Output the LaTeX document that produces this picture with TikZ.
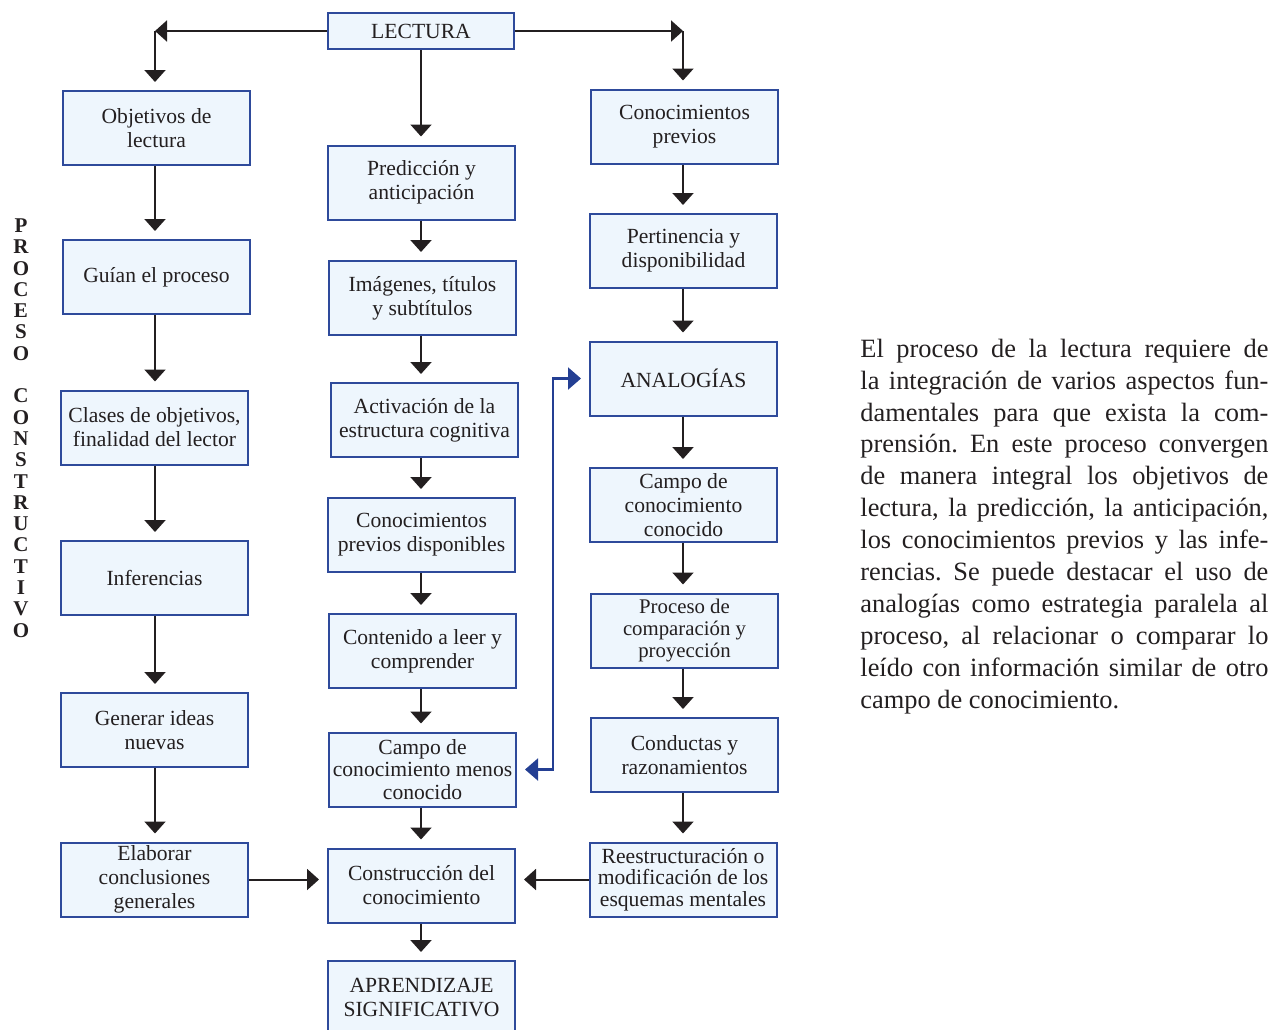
\documentclass[tikz,border=0pt]{standalone}
\usepackage{fontspec}
\setmainfont{Liberation Serif}
\usetikzlibrary{arrows.meta}
\definecolor{boxfill}{HTML}{EEF6FD}
\definecolor{boxline}{HTML}{2E4A9B}
\definecolor{linkblue}{HTML}{243F93}
\definecolor{ink}{HTML}{231F20}
\frenchspacing
\begin{document}
\begin{tikzpicture}[x=0.5pt,y=-0.5pt,
  box/.style={draw=boxline, fill=boxfill, line width=1pt, minimum width=93.5pt,
    minimum height=37pt, inner xsep=1pt, inner ysep=1pt, align=center,
    font=\fontsize{10.8}{12}\selectfont, text=ink},
  link/.style={draw=ink, line width=1pt, -{Triangle[length=6pt,width=10.5pt]}},
  arr/.style={link, shorten >=4pt},
  blink/.style={draw=linkblue, line width=1.1pt,
    {Triangle[length=6.5pt,width=11pt]}-{Triangle[length=6.5pt,width=11pt]},
    shorten >=4pt, shorten <=4pt},
]
\useasboundingbox (0,0) rectangle (1273,1029);

% vertical label
\node[font=\bfseries\fontsize{10.5}{10.65}\selectfont, align=center, inner sep=0pt, text=ink] (vt) at (21,428)
  {P\\R\\O\\C\\E\\S\\O\\[10.65pt]C\\O\\N\\S\\T\\R\\U\\C\\T\\I\\V\\O};

% top
\node[box, minimum height=18pt, minimum width=93pt] (lect) at (421,31) {LECTURA};

% left column
\node[box] (obj) at (156.5,128) {Objetivos de\\lectura};
\node[box] (gui) at (156.5,277) {Guían el proceso};
\node[box] (cla) at (154.5,427.5) {Clases de objetivos,\\finalidad del lector};
\node[box] (inf) at (154.5,578) {Inferencias};
\node[box] (gen) at (154.5,730) {Generar ideas\\nuevas};
\node[box] (ela) at (154.5,879.5) {Elaborar\\conclusiones\\generales};

% middle column
\node[box] (pred) at (421.5,182.5) {Predicción y\\anticipación};
\node[box] (ima) at (422.5,298) {Imágenes, títulos\\y subtítulos};
\node[box] (act) at (424.5,420) {Activación de la\\estructura cognitiva};
\node[box] (cpd) at (421.5,535) {Conocimientos\\previos disponibles};
\node[box] (cont) at (422.5,651) {Contenido a leer y\\comprender};
\node[box, font=\fontsize{10.8}{11.25}\selectfont] (menos) at (422.5,769.5) {Campo de\\conocimiento menos\\conocido};
\node[box] (cons) at (421.5,885.5) {Construcción del\\conocimiento};
\node[box] (apr) at (421.5,998) {APRENDIZAJE\\SIGNIFICATIVO};

% right column
\node[box] (cprev) at (684.5,126.5) {Conocimientos\\previos};
\node[box] (pert) at (683.5,251) {Pertinencia y\\disponibilidad};
\node[box] (anal) at (683.5,378.5) {ANALOGÍAS};
\node[box] (ccon) at (683.5,505) {Campo de\\conocimiento\\conocido};
\node[box, font=\fontsize{10.4}{10.8}\selectfont] (proc) at (684.5,630.5) {Proceso de\\comparación y\\proyección};
\node[box] (condu) at (684.5,755) {Conductas y\\razonamientos};
\node[box, font=\fontsize{10.8}{10.8}\selectfont] (rees) at (683,879.5) {Reestructuración o\\modificación de los\\esquemas mentales};

% paragraph
\node[anchor=north west, inner sep=0pt, text width=204pt, align=justify, text=ink,
  font=\fontsize{13.2}{15.95}\selectfont] (para) at (860,338.5)
  {El proceso de la lectura requiere de\linebreak
   la integración de varios aspectos fun-\linebreak
   damentales para que exista la com-\linebreak
   prensión. En este proceso convergen\linebreak
   de manera integral los objetivos de\linebreak
   lectura, la predicción, la anticipación,\linebreak
   los conocimientos previos y las infe-\linebreak
   rencias. Se puede destacar el uso de\linebreak
   analogías como estrategia paralela al\linebreak
   proceso, al relacionar o comparar lo\linebreak
   leído con información similar de otro\linebreak
   campo de conocimiento.};

% helper coordinates
\coordinate (cL) at (155,31);
\coordinate (cR) at (683,31);
\coordinate (xL) at (155,0);
\coordinate (xM) at (421,0);
\coordinate (xR) at (683,0);
\coordinate (xB) at (553,0);

% connectors from LECTURA
\draw[link] (lect) -- (cL);
\draw[link] (lect) -- (cR);
\draw[arr] (cL) -- (cL |- obj.north);
\draw[arr] (cR) -- (cR |- cprev.north);

% left column
\foreach \a/\b in {obj/gui, gui/cla, cla/inf, inf/gen, gen/ela}
  \draw[arr] (\a.south -| xL) -- (\b.north -| xL);

% middle column
\foreach \a/\b in {lect/pred, pred/ima, ima/act, act/cpd, cpd/cont, cont/menos, menos/cons, cons/apr}
  \draw[arr] (\a.south -| xM) -- (\b.north -| xM);

% right column
\foreach \a/\b in {cprev/pert, pert/anal, anal/ccon, ccon/proc, proc/condu, condu/rees}
  \draw[arr] (\a.south -| xR) -- (\b.north -| xR);

% horizontal into Construccion
\draw[arr] (ela.east) -- (ela.east -| cons.west);
\draw[arr] (rees.west) -- (rees.west -| cons.east);

% blue double link
\draw[blink] (menos.east) -- (menos.east -| xB) |- (anal.west);
\end{tikzpicture}
\end{document}
